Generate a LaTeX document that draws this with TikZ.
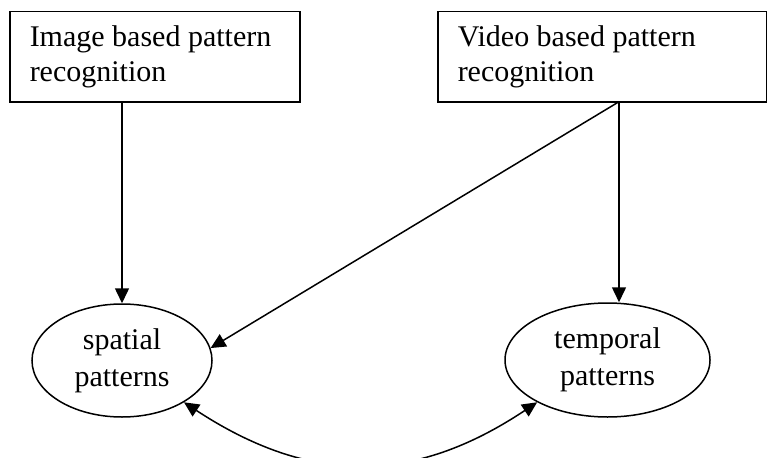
\documentclass[tikz,border=0pt]{standalone}
\usepackage{fontspec}
\setmainfont{Liberation Serif}
\usetikzlibrary{arrows.meta,shapes.geometric}
\begin{document}
\begin{tikzpicture}[x=1pt,y=-1pt,
  line width=1.5pt,
  arr/.style={-{Triangle[length=15pt,width=14pt]}},
  darr/.style={{Triangle[length=15pt,width=14pt]}-{Triangle[length=15pt,width=14pt]}},
  box/.style={draw, rectangle, anchor=north west, minimum height=90.5pt,
    inner xsep=20pt, inner ysep=0pt, align=flush left,
    font=\fontsize{30}{34.5}\selectfont},
  oval/.style={draw, ellipse, inner sep=0pt, align=flush center,
    font=\fontsize{30}{37}\selectfont}]
\clip (0,0) rectangle (767,457);
\useasboundingbox (0,0) rectangle (767,457);
\node[box, minimum width=290pt, text width=250pt] (b1) at (9,11) {Image based pattern\\recognition};
\node[box, minimum width=329pt, text width=289pt] (b2) at (437,11) {Video based pattern\\recognition};
\node[oval, minimum width=180pt, minimum height=113pt] (sp) at (122,360.5) {\raisebox{-3pt}{spatial}\\\raisebox{-3pt}{patterns}};
\node[oval, minimum width=205pt, minimum height=114pt] (tp) at (607.5,360) {\raisebox{-3pt}{temporal}\\\raisebox{-3pt}{patterns}};
\coordinate (v) at (619,101.7);
\draw[arr] (b1.south -| sp.north) -- (sp.north);
\draw[arr] (v) -- (v |- tp.north);
\draw[arr] (v) -- (sp.8);
\draw[darr] (sp.-34) .. controls (310,485) and (413,485) .. (tp.211);
\end{tikzpicture}
\end{document}
